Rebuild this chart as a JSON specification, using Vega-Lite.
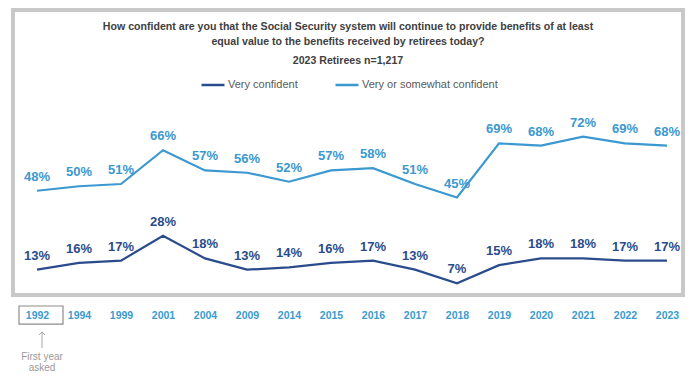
{
  "$schema": "https://vega.github.io/schema/vega-lite/v6.json",
  "autosize": "none",
  "width": 670,
  "height": 285,
  "padding": {"left": 13, "top": 10, "right": 17, "bottom": 93},
  "config": {
    "view": {"stroke": "#c8c8c8", "strokeWidth": 4},
    "font": "Liberation Sans"
  },
  "title": {
    "text": ["How confident are you that the Social Security system will continue to provide benefits of at least", "equal value to the benefits received by retirees today?"],
    "subtitle": "2023 Retirees n=1,217",
    "anchor": "middle",
    "orient": "top",
    "offset": -57,
    "font": "Liberation Sans",
    "fontSize": 10.6,
    "fontWeight": "bold",
    "color": "#404040",
    "lineHeight": 15,
    "subtitleFont": "Liberation Sans",
    "subtitleFontSize": 10.6,
    "subtitleFontWeight": "bold",
    "subtitleColor": "#404040",
    "subtitlePadding": 9
  },
  "datasets": {
    "survey": [
      {"year": "1992", "series": "Very confident", "value": 0.13},
      {"year": "1994", "series": "Very confident", "value": 0.16},
      {"year": "1999", "series": "Very confident", "value": 0.17},
      {"year": "2001", "series": "Very confident", "value": 0.28},
      {"year": "2004", "series": "Very confident", "value": 0.18},
      {"year": "2009", "series": "Very confident", "value": 0.13},
      {"year": "2014", "series": "Very confident", "value": 0.14},
      {"year": "2015", "series": "Very confident", "value": 0.16},
      {"year": "2016", "series": "Very confident", "value": 0.17},
      {"year": "2017", "series": "Very confident", "value": 0.13},
      {"year": "2018", "series": "Very confident", "value": 0.07},
      {"year": "2019", "series": "Very confident", "value": 0.15},
      {"year": "2020", "series": "Very confident", "value": 0.18},
      {"year": "2021", "series": "Very confident", "value": 0.18},
      {"year": "2022", "series": "Very confident", "value": 0.17},
      {"year": "2023", "series": "Very confident", "value": 0.17},
      {"year": "1992", "series": "Very or somewhat confident", "value": 0.48},
      {"year": "1994", "series": "Very or somewhat confident", "value": 0.50},
      {"year": "1999", "series": "Very or somewhat confident", "value": 0.51},
      {"year": "2001", "series": "Very or somewhat confident", "value": 0.66},
      {"year": "2004", "series": "Very or somewhat confident", "value": 0.57},
      {"year": "2009", "series": "Very or somewhat confident", "value": 0.56},
      {"year": "2014", "series": "Very or somewhat confident", "value": 0.52},
      {"year": "2015", "series": "Very or somewhat confident", "value": 0.57},
      {"year": "2016", "series": "Very or somewhat confident", "value": 0.58},
      {"year": "2017", "series": "Very or somewhat confident", "value": 0.51},
      {"year": "2018", "series": "Very or somewhat confident", "value": 0.45},
      {"year": "2019", "series": "Very or somewhat confident", "value": 0.69},
      {"year": "2020", "series": "Very or somewhat confident", "value": 0.68},
      {"year": "2021", "series": "Very or somewhat confident", "value": 0.72},
      {"year": "2022", "series": "Very or somewhat confident", "value": 0.69},
      {"year": "2023", "series": "Very or somewhat confident", "value": 0.68}
    ],
    "note": [
      {"year": "1992", "note": "First year\nasked"}
    ]
  },
  "encoding": {
    "x": {
      "field": "year",
      "type": "ordinal",
      "scale": {"type": "point", "range": [24, 654], "padding": 0},
      "axis": {
        "title": null,
        "domain": false,
        "ticks": false,
        "grid": false,
        "labelAngle": 0,
        "labelPadding": 20,
        "labelBaseline": "middle",
        "labelFont": "Liberation Sans",
        "labelFontSize": 10.5,
        "labelFontWeight": "bold",
        "labelColor": "#3a9bd0"
      }
    }
  },
  "layer": [
    {
      "data": {"name": "survey"},
      "encoding": {
        "y": {
          "field": "value",
          "type": "quantitative",
          "scale": {"domain": [0, 1], "range": [289, 63.5]},
          "axis": null
        },
        "color": {
          "field": "series",
          "type": "nominal",
          "scale": {"domain": ["Very confident", "Very or somewhat confident"], "range": ["#2b4c8c", "#3b98d0"]},
          "legend": {
            "orient": "none",
            "legendX": 187,
            "legendY": 62,
            "direction": "horizontal",
            "title": null,
            "symbolType": "stroke",
            "symbolSize": 529,
            "symbolStrokeWidth": 2.5,
            "labelFont": "Liberation Sans",
            "labelFontSize": 11,
            "labelColor": "#595959",
            "labelOffset": 2,
            "columnPadding": 32,
            "padding": 0
          }
        }
      },
      "layer": [
        {"mark": {"type": "line", "strokeWidth": 2.2}},
        {
          "mark": {"type": "text", "dy": -14, "fontWeight": "bold", "fontSize": 13, "font": "Liberation Sans"},
          "encoding": {"text": {"field": "value", "type": "quantitative", "format": ".0%"}}
        }
      ]
    },
    {
      "data": {"name": "note"},
      "mark": {"type": "point", "shape": "M-1,-0.41L1,-0.41L1,0.41L-1,0.41Z", "filled": false, "size": 1936, "stroke": "#8c8c8c", "strokeWidth": 1.2, "xOffset": 4, "opacity": 1},
      "encoding": {"y": {"datum": -0.071, "type": "quantitative"}}
    },
    {
      "data": {"name": "note"},
      "mark": {"type": "rule", "stroke": "#a6a6a6", "strokeWidth": 1},
      "encoding": {"y": {"datum": -0.146, "type": "quantitative"}, "y2": {"datum": -0.217}, "xOffset": {"value": 5}}
    },
    {
      "data": {"name": "note"},
      "mark": {"type": "point", "shape": "M-1,1L0,0L1,1", "filled": false, "size": 36, "stroke": "#a6a6a6", "strokeWidth": 1, "xOffset": 5, "opacity": 1},
      "encoding": {"y": {"datum": -0.146, "type": "quantitative"}}
    },
    {
      "data": {"name": "note"},
      "mark": {"type": "text", "lineBreak": "\n", "baseline": "middle", "lineHeight": 11, "font": "Liberation Sans", "fontSize": 10, "color": "#9a9a9a", "xOffset": 5},
      "encoding": {"y": {"datum": -0.257, "type": "quantitative"}, "text": {"field": "note"}}
    }
  ]
}
